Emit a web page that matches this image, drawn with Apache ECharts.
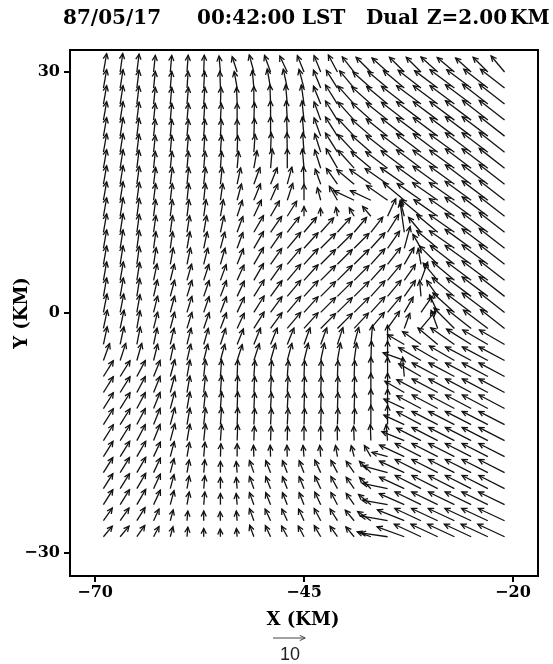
<!DOCTYPE html>
<html>
<head>
<meta charset="utf-8">
<script src="https://cdn.jsdelivr.net/npm/echarts@6/dist/echarts.min.js"></script>
<style>
  html, body { margin: 0; padding: 0; background: #fff; }
  #chart { width: 553px; height: 664px; }
</style>
</head>
<body>
<div id="chart"></div>
<script>
// grid columns (km) and rows (km, top to bottom)
var COLS_X = [-69, -67, -65, -63, -61, -59, -57, -55, -53, -51, -49, -47, -45,
              -43, -41, -39, -37, -35, -33, -31, -29, -27, -25, -23, -21];
var ROWS_Y = [30, 28, 26, 24, 22, 20, 18, 16, 14, 12, 10, 8, 6, 4, 2, 0,
              -2, -4, -6, -8, -10, -12, -14, -16, -18, -20, -22, -24, -26, -28];

// direction the arrow points (deg, 90 = north), one row per ROWS_Y entry
var DIR = [
  [80,82,83,84,85,86,88,95,108,105,110,115,112,112,118,128,135,138,135,135,138,140,138,135,130],
  [80,81,83,84,85,86,87,92,100,95,100,102,105,112,122,130,138,140,140,142,143,143,143,142,142],
  [80,81,83,84,85,85,86,88,92,90,92,95,98,112,122,132,138,140,142,143,143,143,143,142,142],
  [80,81,83,84,85,85,86,87,90,88,90,93,96,110,122,132,138,141,142,143,143,143,143,142,142],
  [80,81,83,84,85,85,86,87,90,88,90,92,95,110,122,133,139,141,142,143,143,143,143,143,142],
  [80,81,83,84,85,85,86,86,88,86,88,91,94,108,122,133,139,142,143,143,143,144,143,143,142],
  [80,81,83,84,84,85,85,86,85,80,85,90,95,108,120,132,140,143,143,143,144,144,143,143,142],
  [80,81,82,83,83,84,84,84,78,70,68,75,92,110,125,140,145,145,145,144,144,144,143,143,142],
  [80,81,82,83,83,84,84,82,75,68,66,72,90,105,120,155,155,145,140,145,145,145,144,143,142],
  [80,81,82,83,83,83,82,80,72,65,60,58,90,92,100,120,130,65,105,140,145,145,144,143,142],
  [80,81,82,82,82,81,80,78,70,60,55,52,50,48,48,50,52,58,98,130,140,145,144,143,142],
  [80,81,82,82,82,80,78,75,70,60,55,50,48,45,45,45,48,55,75,120,140,145,144,143,142],
  [80,81,82,81,80,78,76,74,68,60,55,50,48,45,45,45,48,52,60,100,135,142,144,143,142],
  [80,80,81,78,76,74,72,70,66,60,55,50,48,45,45,45,48,50,55,70,130,140,143,143,142],
  [80,80,81,77,75,73,71,69,65,58,54,50,48,45,45,45,48,50,55,95,125,140,143,143,142],
  [79,79,80,76,75,73,71,69,65,58,54,50,48,45,45,45,48,50,60,55,115,138,143,143,142],
  [78,78,80,76,75,73,71,69,65,58,54,50,48,45,45,47,50,55,70,50,110,135,142,143,142],
  [78,78,79,78,77,76,74,72,68,68,68,68,70,70,72,75,85,90,150,145,140,145,148,150,150],
  [70,72,74,76,78,77,76,75,72,72,74,75,76,78,80,82,88,90,160,150,150,150,152,152,152],
  [58,58,62,68,75,80,84,86,88,86,86,86,88,88,88,88,90,90,95,150,152,152,152,152,152],
  [58,58,62,68,75,80,84,86,88,87,87,87,88,88,88,88,90,90,150,152,152,152,152,152,152],
  [58,58,62,68,75,80,84,86,88,87,87,87,88,88,88,88,90,90,155,152,152,152,152,152,152],
  [58,58,62,68,75,80,84,86,88,87,87,87,88,88,88,88,90,90,155,152,153,153,153,153,153],
  [58,58,62,68,75,80,84,86,88,88,88,89,90,90,91,92,92,95,158,153,153,153,153,153,153],
  [58,58,60,65,75,80,85,88,90,92,92,92,95,95,100,105,120,165,155,153,153,153,153,153,153],
  [58,58,60,65,75,80,85,90,95,110,112,112,112,115,118,125,135,165,155,153,153,153,153,153,153],
  [58,58,60,65,75,80,85,90,95,110,112,112,112,115,118,125,135,168,155,153,153,153,153,153,153],
  [58,58,60,65,75,80,85,90,95,110,112,112,112,115,118,125,140,170,156,154,154,154,154,154,154],
  [55,55,58,65,75,85,90,92,95,110,115,115,115,118,122,130,145,170,158,155,155,155,155,155,155],
  [50,50,55,62,75,85,90,92,95,110,115,118,118,120,125,130,160,172,160,155,155,155,155,155,155]
];

// wind speed (m/s), same layout as DIR
var SPD = [
  [5.8,5.8,5.6,5.2,5.2,5.2,5.2,5,5,5.5,5.5,5.5,5.5,5.5,6,6,6.5,6.5,6.5,6.5,7,7,6.5,6.5,6.5],
  [5.8,5.8,5.6,5.2,5.2,5.2,5.2,5.2,5.2,5.5,6,6,6,6,6.5,7,7.5,8,8.5,9,9,9.5,9.5,9.5,9.5],
  [5.8,5.8,5.6,5.2,5.2,5.2,5.2,5.2,5.2,5.5,6,6,6,6,7,7.5,8,8.5,9,9.5,9.5,9.5,10,10,10],
  [5.8,5.8,5.6,5.2,5.2,5.2,5.2,5.2,5.2,5.5,6,6,6,6,7,7.5,8,8.5,9,9.5,9.5,9.5,10,10,10],
  [5.8,5.8,5.6,5.2,5.2,5.2,5.2,5.2,5.2,5.5,6,6,6,6,7,7.5,8,8.5,9,9.5,9.5,9.5,10,10,10],
  [5.8,5.8,5.6,5.2,5.2,5.2,5.2,5.2,5.2,5.5,6,6,6,6,7,7.5,8,8.5,9,9.5,9.5,9.5,10,10,10],
  [5.8,5.8,5.6,5.2,5.2,5.2,5.2,5.2,5.2,5.5,6,6,6,6,7,7.5,8,8.5,9,9.5,9.5,9.5,10,10,10],
  [5.8,5.8,5.6,5.2,5.2,5.2,5.2,5.2,5.2,5.5,5.5,5.5,5.5,5,6,7,8,8.5,9,9.5,9.5,9.5,10,10,10],
  [5.8,5.8,5.6,5.2,5.2,5.2,5.2,5.2,5.2,5.5,5.5,5.5,5,4,5,7,7,8,8.5,9,9.5,9.5,10,10,10],
  [5.8,5.8,5.6,5.2,5.2,5.2,5.2,5.2,5.2,5.5,5.5,5.5,3,2.5,2.8,3,4,6,5,8,9,9.5,10,10,10],
  [5.8,5.8,5.6,5.2,5.2,5.2,5.2,5.2,5.2,6,6,6,6,6,6,6,6,6.5,9.5,6,8.5,9.5,10,10,10],
  [5.8,5.8,5.6,5.2,5.2,5.2,5.2,5.2,5.2,6,6,6.5,6.5,6.5,6.5,6.5,6.5,6.5,7,5,8.5,9.5,10,10,10],
  [5.8,5.8,5.6,5.2,5.2,5.2,5.2,5.2,5.2,6,6,6.5,6.5,6.5,6.5,6.5,6.5,6.5,6,5,8,9.5,10,10,10],
  [5.8,5.8,5.6,5.2,5.2,5.2,5.2,5.2,5.2,6,6,6.5,6.5,6.5,6.5,6.5,6.5,6.5,6,6,7,9,9.5,10,10],
  [5.8,5.8,5.6,5.2,5.2,5.2,5.2,5.2,5.2,6,6,6.5,6.5,6.5,6.5,6.5,6.5,6.5,6,5,6,9,9.5,10,10],
  [5.8,5.8,5.6,5.2,5.2,5.2,5.2,5.2,5.2,6,6,6.5,6.5,6.5,6.5,6.5,6.5,6.5,5.5,6,6,9,9.5,10,10],
  [5.8,5.8,5.6,5.2,5.2,5.2,5.2,5.2,5.2,6,6,6.5,6.5,6.5,6.5,6.5,6.5,6.5,5,7,6,9,9.5,9.5,9.5],
  [5.6,5.6,5.5,5.2,5.2,5.2,5.2,5.2,5.2,5.5,5.5,5.5,5.5,5.5,5.5,5.5,6,6,6,7,8,9,9,9,9],
  [5.6,5.6,5.5,5.2,5.2,5.2,5.2,5.2,5.2,5.5,5.5,5.5,5.5,5.5,5.5,5.5,6,6,7,8,9,9,9,9,9],
  [5.8,5.8,5.6,5.4,5.4,5.2,5.2,5.2,5.2,5,5,5,5,5,5,5,6,6,6,8,9,9,9,9,9],
  [5.8,5.8,5.6,5.4,5.4,5.2,5.2,5.2,5.2,5,5,5,5,5,5,5,6,6,7,8.5,9,9,9,9,9],
  [5.8,5.8,5.6,5.4,5.4,5.2,5.2,5.2,5.2,5,5,5,5,5,5,5,6,6,7,8.5,9,9,9,9,9],
  [5.8,5.8,5.6,5.4,5.4,5.2,5.2,5.2,5.2,5,5,5,5,5,5,5,6,6,7,8.5,9,9,9,9,9],
  [5.8,5.8,5.6,5.4,5.4,5.2,5.2,5,5,4.5,4.5,4.5,4.5,4.5,4.5,4.5,5,5,7.5,8.5,9,9,9,9,9],
  [5.6,5.6,5.5,5,4.8,4.5,4.5,4,4,3.5,3.5,3.5,3.5,3.5,3.5,3.5,4,5,8.5,9,9,9,9,9,9],
  [5.5,5.5,5.5,5,4.5,4,4,3.5,3.5,4,4,4,4,4.3,4.3,4.3,5,8,8.5,9,9,9,9,9,9],
  [5.5,5.5,5.5,5,4.5,4,4,3.5,3.5,4,4,4,4,4.3,4.3,4.3,5,8,8.5,9,9,9,9,9,9],
  [5.5,5.5,5.5,5,4.5,4,4,3.5,3.5,4,4,4,4,4.3,4.3,4.3,5,8,8.5,9,9,9,9,9,9],
  [4.8,4.8,4.8,4,3.5,3,3,2.8,3,4,4,4,4,4.3,4.3,4.3,5,8.5,9,9,9,9,9,9,9],
  [4.3,4.3,4.3,3.6,3.2,3,2.6,2.4,2.6,3.8,3.8,3.8,3.8,4,4,4,4.5,8.5,9,9.2,9.2,9.2,9.2,9.2,9.2]
];

var X_TICKS = [-70, -45, -20];
var Y_TICKS = [-30, 0, 30];
var TITLE_WORDS = ['87/05/17', '00:42:00', 'LST', 'Dual', 'Z=2.00', 'KM'];
var REF_SPEED = 10;

var KM_PER_MS = 0.385;   // arrow length, in x-axis km per m/s
var SERIF = '"DejaVu Serif", "Liberation Serif", serif';

var data = [];
ROWS_Y.forEach(function(y, r) {
  COLS_X.forEach(function(x, c) {
    data.push([x, y, DIR[r][c], SPD[r][c]]);
  });
});

function arrowShapes(x0, y0, ang, len, head, color, width) {
  var a = ang * Math.PI / 180;
  var hx = x0 + len * Math.cos(a), hy = y0 - len * Math.sin(a);
  var ha = 0.45;
  var b1 = [hx - head * Math.cos(a - ha), hy + head * Math.sin(a - ha)];
  var b2 = [hx - head * Math.cos(a + ha), hy + head * Math.sin(a + ha)];
  var st = { stroke: color, lineWidth: width, fill: null };
  return [
    { type: 'line', shape: { x1: x0, y1: y0, x2: hx, y2: hy }, style: st },
    { type: 'polyline', shape: { points: [b1, [hx, hy], b2] }, style: st }
  ];
}

function minusFmt(v) { return v < 0 ? '\u2212' + Math.abs(v) : String(v); }

var chart = echarts.init(document.getElementById('chart'), null, { renderer: 'canvas' });

chart.setOption({
  animation: false,
  backgroundColor: '#fff',
  grid: {
    left: 70, top: 50, width: 468, height: 526,
    show: true, borderColor: '#000', borderWidth: 2, backgroundColor: 'transparent'
  },
  xAxis: {
    type: 'value', min: -73, max: -17,
    axisLine: { show: false, onZero: false },
    splitLine: { show: false },
    axisTick: { show: true, customValues: X_TICKS, length: 6, lineStyle: { color: '#000', width: 2 } },
    axisLabel: {
      customValues: X_TICKS, margin: 9, color: '#000',
      fontFamily: SERIF, fontWeight: 'bold', fontSize: 16, formatter: minusFmt
    }
  },
  yAxis: {
    type: 'value', min: -32.9, max: 32.75,
    axisLine: { show: false, onZero: false },
    splitLine: { show: false },
    axisTick: { show: true, customValues: Y_TICKS, length: 6, lineStyle: { color: '#000', width: 2 } },
    axisLabel: {
      customValues: Y_TICKS, margin: 10, color: '#000',
      fontFamily: SERIF, fontWeight: 'bold', fontSize: 16, formatter: minusFmt
    }
  },
  series: [{
    type: 'custom',
    data: data,
    clip: false,
    renderItem: function(params, api) {
      var p = api.coord([api.value(0), api.value(1)]);
      var pxKm = api.size([1, 0])[0];
      var len = api.value(3) * KM_PER_MS * pxKm;
      return {
        type: 'group',
        children: arrowShapes(p[0], p[1], api.value(2), len, 6, '#111', 1.3)
      };
    }
  }]
});

// title, axis names and the reference vector
var pxKm = chart.convertToPixel({ xAxisIndex: 0 }, -20) - chart.convertToPixel({ xAxisIndex: 0 }, -70);
pxKm = pxKm / 50;
var refLen = REF_SPEED * KM_PER_MS * pxKm;
var titleX = [63, 197, 302, 366, 427, 510];
var graphics = TITLE_WORDS.map(function(t, i) {
  return {
    type: 'text', left: titleX[i], top: 9,
    style: { text: t, fill: '#000', font: 'bold 20px ' + SERIF }
  };
});
graphics.push({
  type: 'text', x: 303, y: 620,
  style: { text: 'X (KM)', fill: '#000', font: 'bold 18px ' + SERIF, align: 'center', verticalAlign: 'middle' }
});
graphics.push({
  type: 'text', x: 22, y: 313, rotation: Math.PI / 2,
  style: { text: 'Y (KM)', fill: '#000', font: 'bold 18px ' + SERIF, align: 'center', verticalAlign: 'middle' }
});
graphics.push({
  type: 'group',
  children: arrowShapes(273, 638, 0, refLen, 6, '#444', 1)
});
graphics.push({
  type: 'text', x: 290, y: 655,
  style: { text: '10', fill: '#222', font: '18px "Liberation Sans", sans-serif', align: 'center', verticalAlign: 'middle' }
});
chart.setOption({ graphic: graphics });

window.addEventListener('resize', function() { chart.resize(); });
</script>
</body>
</html>
